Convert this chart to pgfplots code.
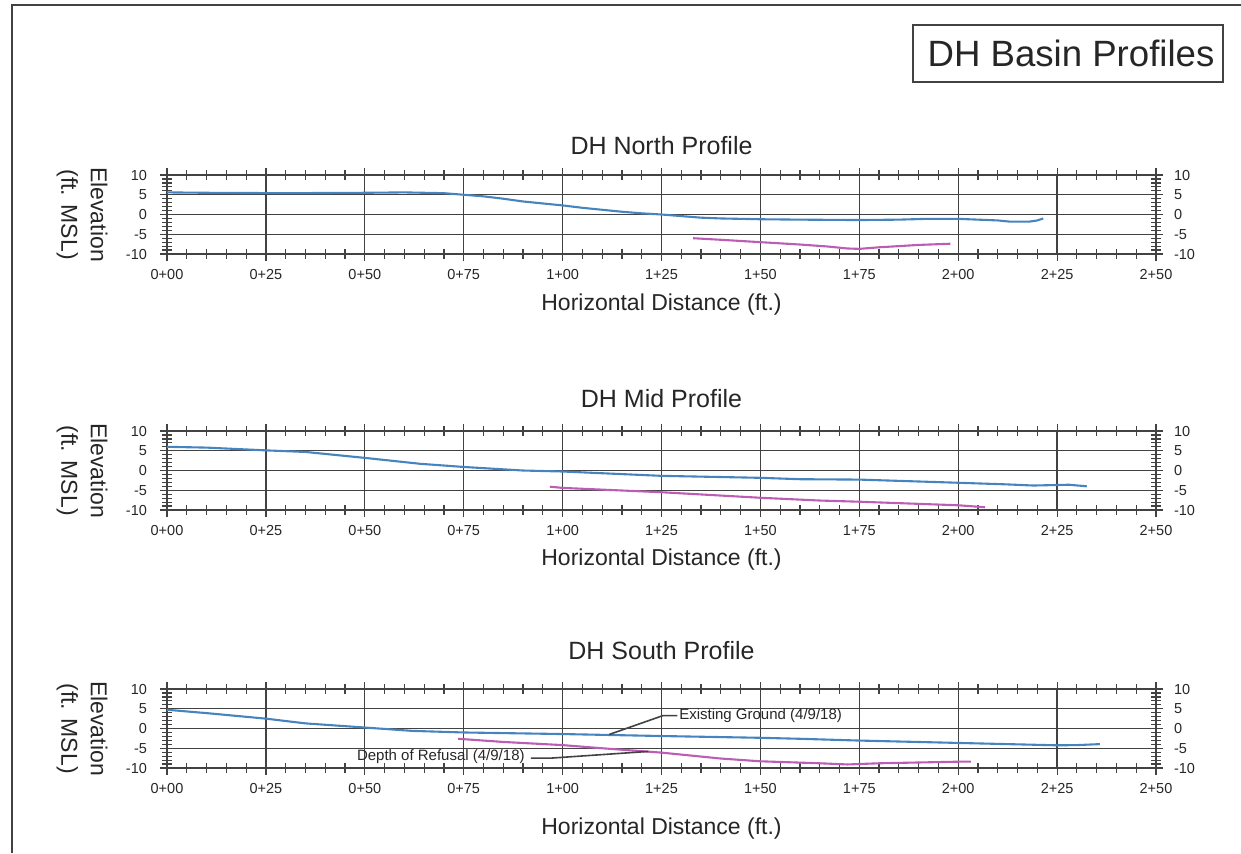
\documentclass[border=0pt]{standalone}
\usepackage{pgfplots}
\pgfplotsset{compat=1.18}
\usepackage{fontspec}
\setmainfont{Liberation Sans}
\definecolor{egc}{RGB}{70,132,192}
\definecolor{drc}{RGB}{188,92,180}
\definecolor{gr}{RGB}{66,66,66}

\pgfplotsset{
  prof/.style={
    scale only axis, width=494.5pt, height=39.5pt,
    xmin=0, xmax=250, ymin=-10, ymax=10,
    xtick={0,25,...,250},
    xticklabels={0+00,0+25,0+50,0+75,1+00,1+25,1+50,1+75,2+00,2+25,2+50},
    ytick={-10,-5,0,5,10},
    minor x tick num=4, minor y tick num=4,
    grid=major,
    major grid style={gr, line width=0.65pt},
    axis line style={gr, line width=0.8pt},
    every tick/.style={gr, line width=0.6pt},
    tick align=center,
    major tick length=7pt,
    minor tick length=5pt,
    tick pos=both,
    xticklabel pos=left,
    yticklabel pos=left,
    ticklabel style={font=\fontsize{7.25}{8}\selectfont, text=black!85},
    /pgf/number format/assume math mode=true,
    xticklabel style={anchor=base, yshift=-9pt},
    yticklabel style={anchor=east, xshift=-3pt},
    ylabel={Elevation\\(ft. MSL)},
    ylabel style={at={(axis description cs:-0.0859,0.5)}, anchor=center, rotate=180,
      align=center, font=\fontsize{11.5}{14.75}\selectfont, text=black!85},
    xlabel={Horizontal Distance (ft.)},
    xlabel style={font=\fontsize{11.5}{13}\selectfont, text=black!85, anchor=center},
    title style={font=\fontsize{12.5}{14}\selectfont, text=black!85, anchor=center, at={(0.5,1)}},
    clip=false,
  },
  rlab/.style={
    scale only axis, width=494.5pt, height=39.5pt,
    xmin=0, xmax=250, ymin=-10, ymax=10,
    hide x axis,
    axis y line*=right,
    y axis line style={draw=none},
    ytick={-10,-5,0,5,10},
    major tick length=0pt,
    ytick style={draw=none},
    ticklabel style={font=\fontsize{7.25}{8}\selectfont, text=black!85},
    /pgf/number format/assume math mode=true,
    yticklabel style={anchor=west, xshift=5.5pt},
  },
  egline/.style={egc, line width=1.05pt},
  drline/.style={drc, line width=1.05pt},
}

\begin{document}
\begin{tikzpicture}
\useasboundingbox (0,0) rectangle (620.5pt,-426.5pt);
% frame
\draw[gr, line width=1pt] (6pt,-426.5pt) -- (6pt,-2.5pt) -- (620.5pt,-2.5pt);
% main title box
\draw[gr, line width=0.7pt] (456.5pt,-12.5pt) rectangle (611.5pt,-41pt);
\node[font=\fontsize{18.3}{20}\selectfont, text=black!85] at (535.5pt,-26.8pt) {DH Basin Profiles};

% ---------------- North ----------------
\begin{axis}[prof, at={(83.5pt,-127pt)}, anchor=south west,
  title={DH North Profile}, title style={yshift=8.5pt},
  xlabel style={at={(axis description cs:0.5,0)}, yshift=-25.5pt}]
\addplot[egline] coordinates {
(0,5.6) (10,5.5) (30,5.4) (50,5.5) (60,5.6) (70,5.4) (75,5.0) (80,4.6) (85,4.0)
(90,3.3) (95,2.8) (100,2.3) (105,1.7) (110,1.2) (115,0.7) (120,0.3) (125,0)
(130,-0.4) (135,-0.8) (140,-1.0) (150,-1.2) (160,-1.3) (175,-1.4) (185,-1.3)
(192,-1.1) (200,-1.1) (205,-1.3) (210,-1.5) (213,-1.8) (218,-1.8) (220,-1.5) (221.5,-1.0)
};
\addplot[drline] coordinates {
(133,-6.0) (140,-6.4) (150,-7.0) (160,-7.6) (167,-8.1) (172,-8.6) (175,-8.7)
(180,-8.3) (185,-8.0) (190,-7.7) (198,-7.4)
};
\end{axis}
\begin{axis}[rlab, at={(83.5pt,-127pt)}, anchor=south west]
\end{axis}

% ---------------- Mid ----------------
\begin{axis}[prof, at={(83.5pt,-255pt)}, anchor=south west,
  title={DH Mid Profile}, title style={yshift=10pt},
  xlabel style={at={(axis description cs:0.5,0)}, yshift=-25pt}]
\addplot[egline] coordinates {
(0,6.0) (10,5.8) (25,5.1) (35,4.7) (50,3.2) (64,1.7) (75,0.9) (90,0) (100,-0.25)
(125,-1.35) (150,-1.85) (160,-2.2) (175,-2.3) (200,-3.1) (212,-3.5) (219,-3.8)
(228,-3.6) (232.5,-4.0)
};
\addplot[drline] coordinates {
(96.8,-4.1) (100,-4.4) (125,-5.5) (150,-6.9) (165,-7.6) (175,-7.9) (200,-8.8) (206.8,-9.3)
};
\end{axis}
\begin{axis}[rlab, at={(83.5pt,-255pt)}, anchor=south west]
\end{axis}

% ---------------- South ----------------
\begin{axis}[prof, at={(83.5pt,-384pt)}, anchor=south west,
  title={DH South Profile}, title style={yshift=13pt},
  xlabel style={at={(axis description cs:0.5,0)}, yshift=-30.5pt}]
\addplot[egline] coordinates {
(0,4.75) (10,3.9) (25,2.5) (35,1.3) (50,0.25) (62,-0.6) (75,-1.0) (100,-1.4)
(110,-1.6) (125,-1.9) (150,-2.35) (160,-2.6) (175,-3.05) (200,-3.65) (225,-4.25)
(230,-4.2) (235.8,-3.95)
};
\addplot[drline] coordinates {
(73.6,-2.6) (85,-3.4) (100,-4.2) (110,-5.0) (125,-6.1) (140,-7.6) (150,-8.3)
(165,-8.8) (172,-9.1) (180,-8.8) (190,-8.6) (200,-8.4) (203.2,-8.4)
};
\draw[gr, line width=0.8pt] (axis cs:111.8,-1.5) -- (axis cs:125.3,3.25) -- (axis cs:129,3.25);
\node[anchor=west, inner sep=0pt, font=\fontsize{7.5}{8}\selectfont, text=black!85]
  at (axis cs:129.4,3.25) {Existing Ground (4/9/18)};
\draw[gr, line width=0.8pt] (axis cs:92,-7.5) -- (axis cs:97,-7.5) -- (axis cs:121.7,-5.8);
\node[anchor=east, inner sep=0pt, font=\fontsize{7.5}{8}\selectfont, text=black!85]
  at (axis cs:90.5,-7.1) {Depth of Refusal (4/9/18)};
\end{axis}
\begin{axis}[rlab, at={(83.5pt,-384pt)}, anchor=south west]
\end{axis}
\end{tikzpicture}
\end{document}
